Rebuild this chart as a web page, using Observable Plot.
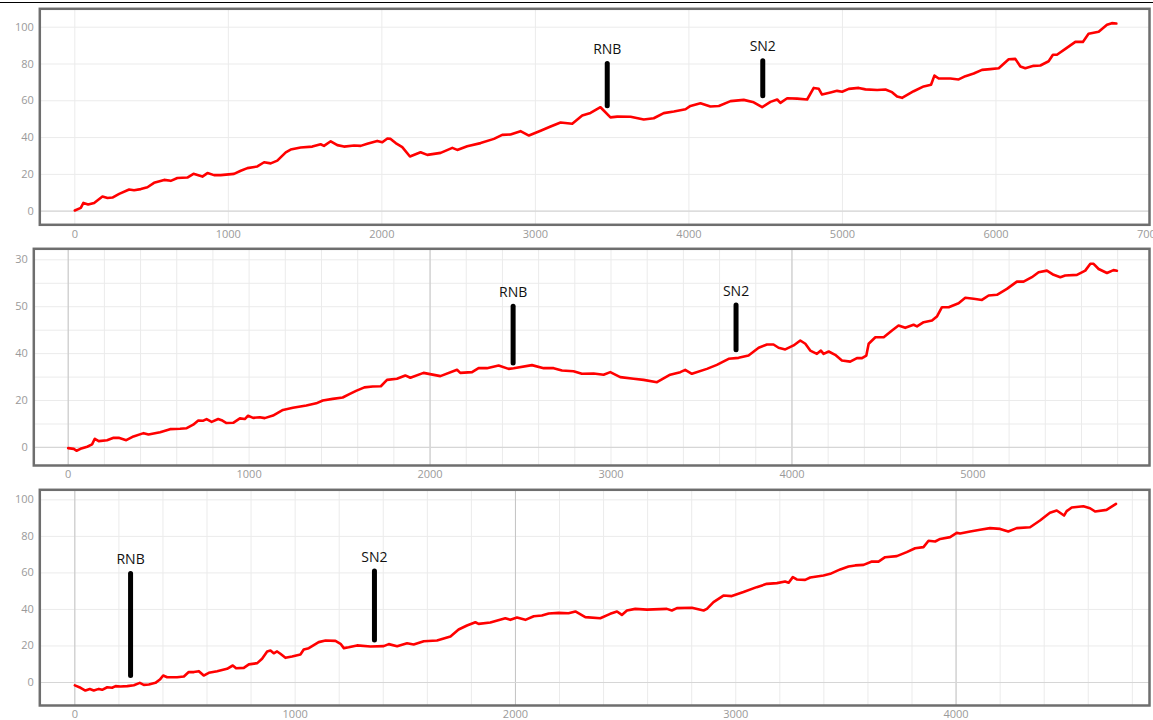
<!DOCTYPE html>
<html>
<head>
<meta charset="utf-8">
<script src="https://cdn.jsdelivr.net/npm/d3@7"></script>
<script src="https://cdn.jsdelivr.net/npm/@observablehq/plot@0.6"></script>
<style>
  html, body { margin: 0; padding: 0; background: #fff; }
  #wrap { position: relative; width: 1153px; height: 720px; overflow: hidden; }
  #topline { position: absolute; left: 0; top: 2px; width: 1153px; height: 1px; background: #000; }
  .panel { position: absolute; left: 0; }
</style>
</head>
<body>
<div id="wrap"><div id="topline"></div></div>
<script>
// ---- Run 1 ----
const run1X = [0,39,56,87,126,180,213,245,289,354,386,430,473,516,582,625,668,733,773,831,864,907,950,1037,1081,1124,1189,1233,1276,1319,1374,1406,1471,1547,1601,1623,1667,1710,1753,1819,1862,1905,1970,2003,2036,2057,2090,2133,2183,2252,2296,2383,2459,2491,2556,2643,2730,2784,2838,2903,2958,3034,3099,3164,3240,3305,3359,3424,3489,3533,3620,3706,3771,3836,3902,3978,4010,4075,4140,4195,4271,4357,4422,4477,4531,4575,4596,4640,4705,4770,4813,4846,4867,4922,4965,4998,5041,5106,5150,5226,5280,5323,5356,5388,5464,5529,5577,5599,5627,5703,5757,5801,5855,5909,5963,6018,6083,6126,6159,6191,6245,6289,6343,6371,6397,6452,6517,6566,6603,6669,6723,6755,6784];
const run1Y = [0.4,1.8,4.5,3.6,4.5,8,7.2,7.4,9.4,11.8,11.4,12,13,15.4,17,16.5,18,18.3,20.3,18.8,20.7,19.6,19.6,20.3,22,23.4,24.3,26.6,26,27.5,32,33.5,34.6,35.1,36.4,35.5,38,35.9,35.1,35.7,35.5,36.6,38.2,37.5,39.5,39.3,37,34.8,29.7,32,30.6,31.7,34.4,33.3,35.3,37,39.3,41.5,41.7,43.5,41.1,43.7,46,48.2,47.5,52,53.4,56.5,51,51.4,51.3,49.8,50.5,53.3,54.2,55.4,57.2,58.7,56.9,57.2,59.8,60.5,59.2,56.5,59.4,60.7,58.9,61.4,61.2,60.7,67,66.5,63.4,64.5,65.4,64.9,66.5,67,66.2,65.9,66.1,64.7,62.3,61.6,65.2,67.8,68.7,73.7,72.1,72.1,71.6,73.4,74.8,76.8,77.2,77.7,82.6,82.8,78.6,77.7,79,79.2,81.5,85,85,88.2,92,92,96.4,97.5,101.3,102.2,102];

// ---- Run 2 ----
const run2X = [0,31,46,68,105,132,147,169,215,251,279,321,361,417,444,508,563,618,655,691,719,747,765,793,829,848,875,912,949,976,994,1022,1059,1086,1132,1187,1242,1316,1371,1407,1462,1517,1554,1591,1637,1683,1728,1762,1817,1863,1891,1964,2057,2149,2167,2232,2268,2314,2379,2434,2462,2563,2628,2683,2729,2793,2839,2904,2959,2996,3051,3125,3180,3254,3327,3383,3410,3447,3530,3585,3650,3705,3760,3816,3862,3898,3926,3963,4009,4046,4074,4101,4138,4160,4175,4203,4239,4276,4322,4359,4387,4411,4424,4461,4507,4553,4589,4626,4672,4691,4728,4774,4801,4829,4866,4921,4958,5004,5050,5087,5133,5188,5243,5280,5326,5363,5409,5446,5483,5510,5575,5621,5649,5667,5695,5741,5777,5796];
const run2Y = [-0.3,-0.6,-1.4,-0.6,0.3,1.3,3.7,2.7,3.1,4.1,4.1,3.1,4.7,6.1,5.5,6.5,7.8,8,8.2,9.7,11.5,11.4,12.1,10.9,12.1,11.6,10.4,10.5,12.4,12.1,13.5,12.6,12.9,12.5,13.6,16,16.9,17.9,18.8,20,20.7,21.3,22.7,24.1,25.6,26,26.1,28.8,29.3,30.7,29.7,31.8,30.4,33.1,31.8,32.1,33.8,33.8,34.9,33.5,33.8,35.1,33.8,33.8,32.8,32.5,31.4,31.5,31,32.1,30,29.3,28.8,27.8,31,32.1,33.1,31.4,33.5,35.2,37.8,38.2,39.2,42.5,43.9,43.9,42.5,41.8,43.5,45.6,44.2,41.3,39.9,41.3,39.9,40.9,39.5,37.1,36.6,38.1,38.1,39.2,44.2,47,47,49.9,52,51,52.3,51.6,53.4,54.1,55.8,59.8,59.8,61.5,63.8,63.4,62.9,64.8,65.1,67.6,70.7,70.7,72.6,74.7,75.4,73.6,72.6,73.3,73.6,75.4,78.3,78.3,76.1,74.4,75.6,75.3];

// ---- Run 3 ----
const run3X = [0,26,48,68,86,109,124,147,169,185,207,238,268,295,313,336,366,386,401,419,464,495,517,540,563,585,608,646,691,717,732,767,790,828,850,873,888,903,918,933,956,986,1024,1039,1062,1107,1138,1183,1206,1221,1243,1281,1342,1402,1425,1463,1508,1538,1584,1644,1705,1742,1780,1818,1833,1886,1954,1977,2007,2045,2083,2120,2151,2196,2241,2272,2317,2385,2430,2461,2483,2506,2544,2597,2687,2710,2733,2801,2854,2869,2899,2944,2982,3035,3095,3141,3187,3224,3240,3259,3277,3315,3338,3398,3429,3474,3512,3542,3580,3618,3648,3678,3731,3776,3814,3852,3875,3905,3928,3973,4003,4018,4064,4109,4154,4200,4237,4275,4336,4381,4426,4457,4490,4502,4525,4578,4608,4631,4683,4726];
const run3Y = [-1.6,-2.9,-4.4,-3.6,-4.4,-3.5,-4,-2.6,-2.9,-2,-2.2,-2,-1.5,-0.2,-1.3,-1.1,-0.2,1.6,3.8,2.9,2.9,3.3,5.7,5.7,6.2,3.8,5.3,6.2,7.5,9.3,7.8,8,9.9,10.6,13,17,17.5,16,17,15.7,13.5,14.2,15.3,18.1,18.8,22.1,23,22.8,21.2,18.8,19.3,20.3,19.7,19.9,21,19.9,21.5,20.8,22.6,23,25.2,29,31.2,33,32.1,32.8,35.2,34.3,35.6,34.3,36.3,36.7,37.8,38.1,37.9,38.9,35.8,35.2,37.6,38.9,37,39.4,40.3,39.9,40.3,39.4,40.7,40.9,39.4,40.3,44,47.6,47.3,49.5,52.2,54,54.4,55.3,54.6,57.7,56.4,56.2,57.5,58.6,59.5,61.9,63.5,64.1,64.4,66.2,66.2,68.6,69.2,71.4,73.5,74.1,77.6,77.2,78.6,79.6,81.9,81.6,82.7,83.6,84.5,84.1,82.7,84.5,85,88.7,92.9,94.2,91.4,93.8,95.8,96.5,95.4,93.6,94.5,97.8];

// ---- Event markers (name, position, vertical extent) ----
const eventNames = ["RNB", "SN2"];
const run1EventX = [3468, 4481];
const run1EventLow = [57, 62.5];
const run1EventHigh = [80, 81.5];
const run2EventX = [2459, 3691];
const run2EventLow = [35.8, 41.4];
const run2EventHigh = [60, 60.5];
const run3EventX = [253, 1360];
const run3EventLow = [3.6, 23];
const run3EventHigh = [59.4, 60.7];

// ---- Axis ticks ----
const run1XTicks = [0,1000,2000,3000,4000,5000,6000,7000];
const run1YTicks = [0,20,40,60,80,100];
const run2XTicks = [0,1000,2000,3000,4000,5000];
const run2YTicks = [0,20,40,60,80];
const run2YTickLabels = ["0","20","40","50","30"];
const run3XTicks = [0,1000,2000,3000,4000];
const run3YTicks = [0,20,40,60,80,100];

const FONT = "'Open Sans', 'Noto Sans', sans-serif";
const MINOR = "#ebebeb";
const MAJOR = "#c4c4c4";

function zip(xs, ys) { return xs.map((x, i) => ({x, y: ys[i]})); }
function events(xs, lo, hi) { return eventNames.map((name, i) => ({name, x: xs[i], y1: lo[i], y2: hi[i]})); }
function range(a, b, step) { const r = []; for (let v = a; v <= b + 1e-9; v += step) r.push(v); return r; }

function panel(o) {
  const series = zip(o.xs, o.ys);
  const ev = events(o.evX, o.evLo, o.evHi);
  const marks = [
    Plot.gridX(o.gridXMinor, {stroke: MINOR, strokeOpacity: 1, strokeWidth: 1}),
    Plot.gridY(o.gridYMinor, {stroke: MINOR, strokeOpacity: 1, strokeWidth: 1}),
    Plot.gridX(o.gridXMajor, {stroke: MAJOR, strokeOpacity: 1, strokeWidth: 1}),
    Plot.gridY(o.gridYMajor, {stroke: "#d6d6d6", strokeOpacity: 1, strokeWidth: 1.2}),
    Plot.line(series, {x: "x", y: "y", stroke: "#ff0000", strokeWidth: 2.6, strokeLinejoin: "round", strokeLinecap: "round"}),
    Plot.ruleX(ev, {x: "x", y1: "y1", y2: "y2", stroke: "#000", strokeWidth: 5, strokeLinecap: "round"}),
    Plot.text(ev, {x: "x", y: "y2", text: "name", lineAnchor: "bottom", dy: -10, fill: "#111", fontSize: 14, fontFamily: FONT}),
    Plot.axisX(o.xTicks, {tickSize: 0, tickPadding: 5, fill: "#9a9a9a", fontSize: 11, fontFamily: FONT, stroke: null,
      label: null, tickFormat: d => String(d)}),
    Plot.axisY(o.yTicks, {tickSize: 0, tickPadding: 6, fill: "#9a9a9a", fontSize: 11, fontFamily: FONT, stroke: null,
      label: null, tickFormat: o.yLabels ? (d => o.yLabels[o.yTicks.indexOf(d)]) : (d => String(d))}),
    Plot.frame({stroke: "#6e6e6e", strokeWidth: 2.5})
  ];
  const svg = Plot.plot({
    width: 1153,
    height: o.height,
    marginTop: o.mt,
    marginBottom: o.mb,
    marginLeft: o.ml,
    marginRight: 4,
    x: {domain: o.xDomain, axis: null, label: null},
    y: {domain: o.yDomain, axis: null, label: null},
    style: {background: "transparent", overflow: "visible"},
    marks
  });
  svg.classList.add("panel");
  svg.style.top = o.top + "px";
  document.getElementById("wrap").appendChild(svg);
}

panel({
  top: 0, height: 245, mt: 8.3, mb: 20.7, ml: 39.3,
  xDomain: [-228, 7000], yDomain: [-7.4, 110],
  xTicks: run1XTicks, yTicks: run1YTicks,
  gridXMinor: run1XTicks, gridYMinor: run1YTicks, gridXMajor: [], gridYMajor: [0],
  xs: run1X, ys: run1Y, evX: run1EventX, evLo: run1EventLow, evHi: run1EventHigh
});

panel({
  top: 245, height: 240, mt: 3.3, mb: 20, ml: 33.3,
  xDomain: [-190, 5976], yDomain: [-7.7, 84.7],
  xTicks: run2XTicks, yTicks: run2YTicks, yLabels: run2YTickLabels,
  gridXMinor: range(0, 5800, 200), gridYMinor: range(0, 80, 10), gridXMajor: [0, 2000, 4000], gridYMajor: [0],
  xs: run2X, ys: run2Y, evX: run2EventX, evLo: run2EventLow, evHi: run2EventHigh
});

panel({
  top: 485, height: 235, mt: 4.3, mb: 15, ml: 39.3,
  xDomain: [-159, 4878], yDomain: [-12.6, 105.5],
  xTicks: run3XTicks, yTicks: run3YTicks,
  gridXMinor: range(0, 4800, 200), gridYMinor: run3YTicks, gridXMajor: [0, 2000, 4000], gridYMajor: [0],
  xs: run3X, ys: run3Y, evX: run3EventX, evLo: run3EventLow, evHi: run3EventHigh
});
</script>
</body>
</html>
